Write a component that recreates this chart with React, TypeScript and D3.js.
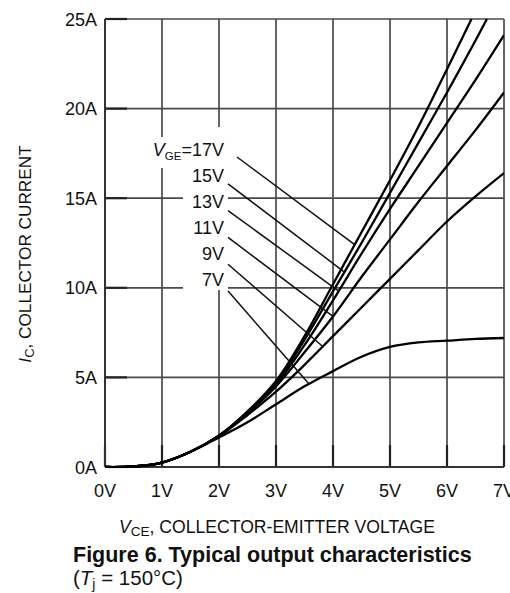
import React from "react";
import * as d3 from "d3";

// ---- data ----
const xTickValues = [0, 1, 2, 3, 4, 5, 6, 7];
const xTickLabels = ["0V", "1V", "2V", "3V", "4V", "5V", "6V", "7V"];
const yTickValues = [0, 5, 10, 15, 20, 25];
const yTickLabels = ["0A", "5A", "10A", "15A", "20A", "25A"];

const curveNames = ["17V", "15V", "13V", "11V", "9V", "7V"];

const v17 = [0, 0.5, 1, 1.5, 2, 2.5, 3, 3.5, 4, 4.5, 5, 5.5, 6, 6.43];
const i17 = [0, 0.03, 0.25, 0.85, 1.75, 3.1, 4.8, 7.3, 10.2, 13.1, 16.0, 19.0, 22.2, 25];
const v15 = [0, 0.5, 1, 1.5, 2, 2.5, 3, 3.5, 4, 4.5, 5, 5.5, 6, 6.5, 6.7];
const i15 = [0, 0.03, 0.25, 0.85, 1.75, 3.05, 4.7, 7.1, 9.8, 12.5, 15.3, 18.1, 20.9, 23.8, 25];
const v13 = [0, 0.5, 1, 1.5, 2, 2.5, 3, 3.5, 4, 4.5, 5, 5.5, 6, 6.5, 7];
const i13 = [0, 0.03, 0.25, 0.85, 1.75, 3.0, 4.6, 6.8, 9.3, 11.9, 14.4, 16.8, 19.2, 21.6, 24.1];
const v11 = [0, 0.5, 1, 1.5, 2, 2.5, 3, 3.5, 4, 4.5, 5, 5.5, 6, 6.5, 7];
const i11 = [0, 0.03, 0.25, 0.85, 1.75, 3.0, 4.5, 6.4, 8.4, 10.6, 12.7, 14.8, 16.8, 18.8, 20.9];
const v9 = [0, 0.5, 1, 1.5, 2, 2.5, 3, 3.5, 4, 4.5, 5, 5.5, 6, 6.5, 7];
const i9 = [0, 0.03, 0.25, 0.85, 1.72, 2.9, 4.2, 5.7, 7.3, 8.9, 10.5, 12.1, 13.7, 15.1, 16.4];
const v7 = [0, 0.5, 1, 1.5, 2, 2.5, 3, 3.5, 4, 4.5, 5, 5.5, 6, 6.5, 7];
const i7 = [0, 0.03, 0.25, 0.85, 1.65, 2.5, 3.5, 4.5, 5.35, 6.15, 6.7, 6.95, 7.05, 7.15, 7.2];

const curveV = [v17, v15, v13, v11, v9, v7];
const curveI = [i17, i15, i13, i11, i9, i7];
// V_CE at which each label's leader line meets its curve
const leaderV = [4.38, 4.2, 4.1, 4.0, 3.82, 3.58];

const FONT = "'Liberation Sans', Arial, Helvetica, sans-serif";

function interp(vs: number[], is: number[], v: number) {
  for (let k = 0; k < vs.length - 1; k++) {
    if (v >= vs[k] && v <= vs[k + 1]) {
      const t = (v - vs[k]) / (vs[k + 1] - vs[k]);
      return is[k] + t * (is[k + 1] - is[k]);
    }
  }
  return is[is.length - 1];
}

export default function App() {
  const W = 510, H = 593;
  const x = d3.scaleLinear().domain([0, 7]).range([105, 504]);
  const y = d3.scaleLinear().domain([0, 25]).range([467, 19]);
  const line = d3
    .line<[number, number]>()
    .x((d) => x(d[0]))
    .y((d) => y(d[1]))
    .curve(d3.curveCatmullRom.alpha(0.5));

  const gridColor = "#4a4a4a";
  const tickLen = 22;

  return (
    <svg
      width={W}
      height={H}
      style={{ position: "absolute", left: 0, top: 0, background: "#fff" }}
      fontFamily={FONT}
    >
      <rect x={0} y={0} width={W} height={H} fill="#fff" />
      <defs>
        <clipPath id="plot">
          <rect x={x(0)} y={y(25) - 1} width={x(7) - x(0)} height={y(0) - y(25) + 2} />
        </clipPath>
      </defs>
      {/* grid */}
      {xTickValues.map((v) => (
        <line key={"gx" + v} x1={x(v)} x2={x(v)} y1={y(0)} y2={y(25)} stroke={gridColor} strokeWidth={1.7} />
      ))}
      {yTickValues.map((v) => (
        <line key={"gy" + v} x1={x(0)} x2={x(7)} y1={y(v)} y2={y(v)} stroke={gridColor} strokeWidth={1.7} />
      ))}
      {/* ticks */}
      {xTickValues.map((v) => (
        <line key={"tx" + v} x1={x(v)} x2={x(v)} y1={y(0)} y2={y(0) - tickLen} stroke="#222" strokeWidth={2.2} />
      ))}
      {yTickValues.map((v) => (
        <line key={"ty" + v} x1={x(0)} x2={x(0) + tickLen} y1={y(v)} y2={y(v)} stroke="#222" strokeWidth={2.2} />
      ))}
      <line x1={x(0)} x2={x(0)} y1={y(0)} y2={y(25)} stroke="#333" strokeWidth={2} />
      <line x1={x(0)} x2={x(7)} y1={y(0)} y2={y(0)} stroke="#333" strokeWidth={2} />

      {/* label masks */}
      <rect x={183} y={127} width={45} height={163} fill="#fff" />
      <rect x={146} y={137} width={42} height={31} fill="#fff" />

      {/* curves */}
      <g clipPath="url(#plot)">
        {curveV.map((vs, k) => (
          <path
            key={"c" + k}
            d={line(vs.map((v, j) => [v, curveI[k][j]] as [number, number])) || ""}
            fill="none"
            stroke="#000"
            strokeWidth={2.3}
            strokeLinejoin="round"
          />
        ))}
      </g>

      {/* leaders */}
      {curveNames.map((n, k) => {
        const sx = k === 0 ? 237 : 228;
        const sy = 157 + k * 26.8;
        const ex = x(leaderV[k]);
        const ey = y(interp(curveV[k], curveI[k], leaderV[k]));
        return <line key={"l" + k} x1={sx} y1={sy} x2={ex} y2={ey} stroke="#111" strokeWidth={1.5} />;
      })}

      {/* curve labels */}
      {curveNames.map((n, k) => {
        const by = 156 + k * 26;
        if (k === 0) {
          return (
            <text key={"t" + k} x={224} y={by} fontSize={18} textAnchor="end" fill="#111">
              <tspan fontStyle="italic">V</tspan>
              <tspan fontSize={11.5} dy={4}>GE</tspan>
              <tspan dy={-4}>=17V</tspan>
            </text>
          );
        }
        return (
          <text key={"t" + k} x={224} y={by} fontSize={18} textAnchor="end" fill="#111">
            {n}
          </text>
        );
      })}

      {/* tick labels */}
      {xTickValues.map((v, k) => (
        <text key={"xl" + v} x={x(v)} y={497} fontSize={18} textAnchor="middle" fill="#111">
          {xTickLabels[k]}
        </text>
      ))}
      {yTickValues.map((v, k) => (
        <text key={"yl" + v} x={97} y={y(v) + 6.5} fontSize={18} textAnchor="end" fill="#111">
          {yTickLabels[k]}
        </text>
      ))}

      {/* axis titles */}
      <text x={277} y={533} fontSize={17.6} textAnchor="middle" fill="#111">
        <tspan fontStyle="italic">V</tspan>
        <tspan fontSize={13.5} dy={3}>CE</tspan>
        <tspan dy={-3}>, COLLECTOR-EMITTER VOLTAGE</tspan>
      </text>
      <text transform="translate(31,254) rotate(-90)" fontSize={17.2} textAnchor="middle" fill="#111">
        <tspan fontStyle="italic">I</tspan>
        <tspan fontSize={13} dy={3}>C</tspan>
        <tspan dy={-3}>, COLLECTOR CURRENT</tspan>
      </text>

      {/* caption */}
      <text x={73} y={562} fontSize={21.5} fontWeight="bold" fill="#111">
        Figure 6. Typical output characteristics
      </text>
      <text x={73} y={585} fontSize={20.5} fill="#111">
        (<tspan fontStyle="italic">T</tspan>
        <tspan fontSize={14} dy={4}>j</tspan>
        <tspan dy={-4}> = 150°C)</tspan>
      </text>
    </svg>
  );
}
